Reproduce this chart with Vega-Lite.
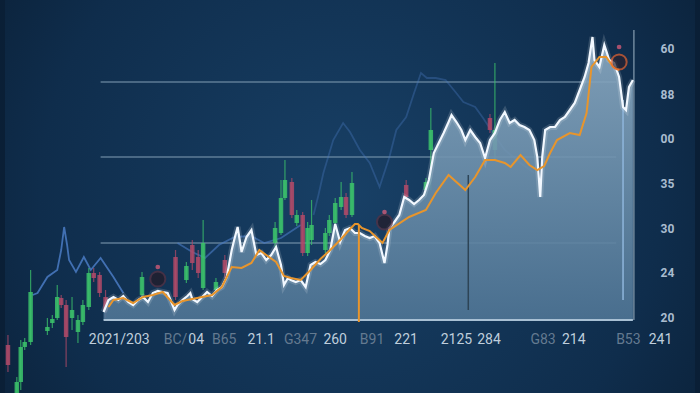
{
  "$schema": "https://vega.github.io/schema/vega-lite/v6.json",
  "width": 700,
  "height": 393,
  "autosize": {"type": "none"},
  "padding": 0,
  "background": "#0a1f36",
  "config": {"view": {"stroke": null}},
  "resolve": {"scale": {"color": "independent"}},
  "datasets": {
    "frame": [{"t1": 0, "t2": 140, "v1": 0, "v2": 39.3}],
    "grid": [
      {"v": 31.1, "t1": 19.4, "t2": 124},
      {"v": 23.6, "t1": 19.4, "t2": 124},
      {"v": 15.0, "t1": 19.4, "t2": 124}
    ],
    "candles": [
      {"t": 0.6, "o": 4.8, "c": 2.8, "hi": 5.8, "lo": 2.1, "dir": "down"},
      {"t": 2.4, "o": 1.1, "c": 0.0, "hi": 1.6, "lo": 0.0, "dir": "up"},
      {"t": 3.2, "o": 4.6, "c": 1.1, "hi": 5.3, "lo": 0.3, "dir": "up"},
      {"t": 4.0, "o": 5.1, "c": 4.6, "hi": 5.5, "lo": 4.3, "dir": "up"},
      {"t": 5.2, "o": 10.1, "c": 5.1, "hi": 12.3, "lo": 4.8, "dir": "up"},
      {"t": 8.6, "o": 6.6, "c": 6.2, "hi": 7.5, "lo": 5.8, "dir": "up"},
      {"t": 9.6, "o": 7.4, "c": 7.0, "hi": 7.8, "lo": 6.5, "dir": "up"},
      {"t": 10.6, "o": 9.6, "c": 7.5, "hi": 10.8, "lo": 7.3, "dir": "up"},
      {"t": 11.4, "o": 9.5, "c": 8.8, "hi": 9.8, "lo": 8.5, "dir": "down"},
      {"t": 12.4, "o": 8.8, "c": 5.6, "hi": 9.3, "lo": 2.6, "dir": "down"},
      {"t": 13.6, "o": 8.3, "c": 7.5, "hi": 9.6, "lo": 6.3, "dir": "up"},
      {"t": 14.8, "o": 7.3, "c": 6.1, "hi": 7.8, "lo": 5.0, "dir": "up"},
      {"t": 15.8, "o": 8.8, "c": 7.1, "hi": 9.3, "lo": 6.8, "dir": "up"},
      {"t": 17.0, "o": 12.0, "c": 8.6, "hi": 12.5, "lo": 8.3, "dir": "up"},
      {"t": 18.0, "o": 12.0, "c": 11.5, "hi": 12.5, "lo": 11.1, "dir": "down"},
      {"t": 19.2, "o": 11.8, "c": 10.0, "hi": 12.1, "lo": 9.6, "dir": "down"},
      {"t": 20.4, "o": 9.6, "c": 8.1, "hi": 10.3, "lo": 7.5, "dir": "down"},
      {"t": 27.8, "o": 11.6, "c": 9.8, "hi": 12.1, "lo": 9.5, "dir": "up"},
      {"t": 34.6, "o": 13.6, "c": 9.6, "hi": 14.3, "lo": 9.3, "dir": "down"},
      {"t": 36.8, "o": 12.7, "c": 11.3, "hi": 13.1, "lo": 11.0, "dir": "up"},
      {"t": 38.0, "o": 14.8, "c": 13.0, "hi": 15.3, "lo": 12.3, "dir": "down"},
      {"t": 39.2, "o": 13.6, "c": 12.0, "hi": 14.3, "lo": 11.5, "dir": "down"},
      {"t": 40.2, "o": 15.0, "c": 10.5, "hi": 17.3, "lo": 10.3, "dir": "up"},
      {"t": 42.8, "o": 11.1, "c": 10.3, "hi": 11.5, "lo": 10.0, "dir": "up"},
      {"t": 44.6, "o": 13.3, "c": 12.0, "hi": 13.8, "lo": 11.5, "dir": "down"},
      {"t": 54.8, "o": 16.5, "c": 15.0, "hi": 17.1, "lo": 14.6, "dir": "up"},
      {"t": 56.0, "o": 19.5, "c": 16.0, "hi": 21.3, "lo": 15.8, "dir": "up"},
      {"t": 56.8, "o": 21.3, "c": 19.5, "hi": 23.3, "lo": 19.3, "dir": "up"},
      {"t": 58.2, "o": 21.1, "c": 17.8, "hi": 21.5, "lo": 17.5, "dir": "down"},
      {"t": 59.2, "o": 17.8, "c": 17.0, "hi": 18.3, "lo": 16.7, "dir": "up"},
      {"t": 60.4, "o": 17.8, "c": 14.0, "hi": 18.1, "lo": 13.7, "dir": "down"},
      {"t": 61.4, "o": 16.5, "c": 14.0, "hi": 17.1, "lo": 13.7, "dir": "up"},
      {"t": 62.2, "o": 16.8, "c": 15.3, "hi": 19.3, "lo": 14.8, "dir": "up"},
      {"t": 65.0, "o": 16.0, "c": 14.3, "hi": 16.5, "lo": 14.0, "dir": "up"},
      {"t": 65.8, "o": 17.3, "c": 16.0, "hi": 17.8, "lo": 15.7, "dir": "up"},
      {"t": 67.0, "o": 19.0, "c": 17.0, "hi": 19.5, "lo": 16.7, "dir": "up"},
      {"t": 68.2, "o": 19.6, "c": 18.6, "hi": 21.1, "lo": 18.3, "dir": "up"},
      {"t": 69.2, "o": 19.6, "c": 17.8, "hi": 20.0, "lo": 17.5, "dir": "down"},
      {"t": 70.4, "o": 21.0, "c": 17.8, "hi": 22.1, "lo": 17.6, "dir": "up"},
      {"t": 81.4, "o": 20.8, "c": 19.6, "hi": 21.3, "lo": 19.3, "dir": "down"},
      {"t": 85.4, "o": 21.1, "c": 20.3, "hi": 21.5, "lo": 19.8, "dir": "up"},
      {"t": 86.4, "o": 26.3, "c": 24.3, "hi": 28.5, "lo": 20.3, "dir": "up"},
      {"t": 98.4, "o": 27.5, "c": 26.3, "hi": 27.9, "lo": 26.0, "dir": "down"},
      {"t": 99.4, "o": 26.3, "c": 24.3, "hi": 33.0, "lo": 23.3, "dir": "up"}
    ],
    "blue": [
      {"t": 5.6, "v": 9.8, "s": "a"}, {"t": 6.6, "v": 10.0, "s": "a"}, {"t": 8.6, "v": 11.6, "s": "a"},
      {"t": 10.6, "v": 12.3, "s": "a"}, {"t": 11.4, "v": 14.3, "s": "a"}, {"t": 12.0, "v": 16.6, "s": "a"},
      {"t": 12.6, "v": 14.8, "s": "a"}, {"t": 13.0, "v": 13.3, "s": "a"}, {"t": 14.4, "v": 12.1, "s": "a"},
      {"t": 16.0, "v": 13.6, "s": "a"}, {"t": 17.4, "v": 12.3, "s": "a"}, {"t": 19.4, "v": 13.5, "s": "a"},
      {"t": 22.0, "v": 11.6, "s": "a"}, {"t": 24.0, "v": 10.0, "s": "a"},
      {"t": 35.0, "v": 15.0, "s": "b"}, {"t": 38.0, "v": 14.1, "s": "b"}, {"t": 40.6, "v": 13.5, "s": "b"},
      {"t": 43.4, "v": 14.8, "s": "b"}, {"t": 46.6, "v": 15.6, "s": "b"}, {"t": 50.0, "v": 15.7, "s": "b"},
      {"t": 52.6, "v": 15.0, "s": "b"}, {"t": 56.0, "v": 15.5, "s": "b"}, {"t": 60.0, "v": 16.8, "s": "b"},
      {"t": 62.6, "v": 17.8, "s": "c"}, {"t": 63.6, "v": 19.8, "s": "c"}, {"t": 64.6, "v": 22.0, "s": "c"},
      {"t": 66.6, "v": 25.3, "s": "c"}, {"t": 68.6, "v": 27.0, "s": "c"}, {"t": 70.0, "v": 26.1, "s": "c"},
      {"t": 72.0, "v": 24.3, "s": "c"}, {"t": 74.0, "v": 23.0, "s": "c"}, {"t": 76.0, "v": 20.6, "s": "c"},
      {"t": 76.6, "v": 21.5, "s": "c"}, {"t": 78.0, "v": 23.6, "s": "c"}, {"t": 79.4, "v": 26.3, "s": "c"},
      {"t": 81.4, "v": 27.6, "s": "c"}, {"t": 83.0, "v": 30.0, "s": "c"}, {"t": 84.4, "v": 32.0, "s": "c"},
      {"t": 85.6, "v": 31.5, "s": "c"}, {"t": 87.4, "v": 31.5, "s": "c"}, {"t": 89.4, "v": 31.3, "s": "c"},
      {"t": 91.4, "v": 30.1, "s": "c"}, {"t": 93.0, "v": 29.1, "s": "c"}, {"t": 95.4, "v": 28.6, "s": "c"},
      {"t": 97.0, "v": 27.5, "s": "c"}, {"t": 98.6, "v": 26.3, "s": "c"}, {"t": 101.4, "v": 24.3, "s": "c"},
      {"t": 104.6, "v": 23.0, "s": "c"}, {"t": 107.4, "v": 22.0, "s": "c"}
    ],
    "price": [
      {"t": 20, "v": 8.1}, {"t": 21, "v": 9.3}, {"t": 22, "v": 9.6}, {"t": 23, "v": 9.3}, {"t": 24, "v": 9.7},
      {"t": 25, "v": 9.1}, {"t": 26, "v": 8.8}, {"t": 27, "v": 9.3}, {"t": 28, "v": 9.6}, {"t": 29, "v": 9.1},
      {"t": 30, "v": 10.0}, {"t": 31, "v": 10.2}, {"t": 32, "v": 10.1}, {"t": 33, "v": 10.0}, {"t": 34, "v": 8.8},
      {"t": 34.4, "v": 8.3}, {"t": 35, "v": 8.8}, {"t": 36, "v": 9.3}, {"t": 37, "v": 9.7}, {"t": 37.6, "v": 10.0},
      {"t": 38, "v": 9.4}, {"t": 39, "v": 9.1}, {"t": 40, "v": 9.6}, {"t": 41, "v": 10.1}, {"t": 42, "v": 9.7},
      {"t": 43, "v": 10.3}, {"t": 44, "v": 10.6}, {"t": 45, "v": 11.6}, {"t": 46, "v": 14.3}, {"t": 46.6, "v": 15.5},
      {"t": 47.2, "v": 16.6}, {"t": 48, "v": 14.1}, {"t": 49, "v": 15.6}, {"t": 50, "v": 16.3}, {"t": 51, "v": 13.8},
      {"t": 52, "v": 14.0}, {"t": 53, "v": 13.3}, {"t": 54, "v": 13.8}, {"t": 55, "v": 14.6}, {"t": 56, "v": 12.8},
      {"t": 56.6, "v": 10.8}, {"t": 57.4, "v": 11.5}, {"t": 58, "v": 11.3}, {"t": 59, "v": 11.1}, {"t": 60, "v": 11.3},
      {"t": 61, "v": 10.6}, {"t": 62, "v": 12.8}, {"t": 63, "v": 13.1}, {"t": 64, "v": 12.9}, {"t": 65, "v": 13.3},
      {"t": 66, "v": 14.3}, {"t": 67, "v": 16.9}, {"t": 68, "v": 15.1}, {"t": 69, "v": 16.3}, {"t": 70, "v": 16.5},
      {"t": 71, "v": 16.0}, {"t": 72, "v": 16.0}, {"t": 73, "v": 15.7}, {"t": 74, "v": 15.5}, {"t": 75, "v": 15.7},
      {"t": 76, "v": 15.0}, {"t": 77, "v": 13.0}, {"t": 77.6, "v": 14.8}, {"t": 78, "v": 16.5}, {"t": 79, "v": 17.1},
      {"t": 80, "v": 17.8}, {"t": 81, "v": 19.6}, {"t": 82, "v": 19.3}, {"t": 83, "v": 18.9}, {"t": 84, "v": 19.3},
      {"t": 85, "v": 19.8}, {"t": 86, "v": 21.3}, {"t": 87, "v": 24.0}, {"t": 88, "v": 25.0}, {"t": 89, "v": 26.0},
      {"t": 90, "v": 27.1}, {"t": 90.6, "v": 27.8}, {"t": 91.6, "v": 27.1}, {"t": 92.6, "v": 26.3}, {"t": 93.4, "v": 25.3},
      {"t": 94.4, "v": 26.3}, {"t": 95.4, "v": 25.6}, {"t": 96.4, "v": 25.0}, {"t": 97.4, "v": 23.5}, {"t": 98.4, "v": 25.3},
      {"t": 99.4, "v": 26.0}, {"t": 100.4, "v": 27.3}, {"t": 101.4, "v": 28.1}, {"t": 102.4, "v": 27.0}, {"t": 103.4, "v": 27.3},
      {"t": 104.4, "v": 26.8}, {"t": 105.4, "v": 26.6}, {"t": 106.4, "v": 26.3}, {"t": 107.4, "v": 25.3}, {"t": 108, "v": 23.6},
      {"t": 108.6, "v": 19.6}, {"t": 109, "v": 23.6}, {"t": 109.6, "v": 26.3}, {"t": 110.6, "v": 26.6}, {"t": 111.6, "v": 26.6},
      {"t": 112.6, "v": 27.3}, {"t": 113.6, "v": 27.6}, {"t": 114.6, "v": 28.3}, {"t": 115.6, "v": 29.0}, {"t": 116.6, "v": 30.3},
      {"t": 117.6, "v": 31.6}, {"t": 118.4, "v": 33.0}, {"t": 119.2, "v": 35.6}, {"t": 119.6, "v": 33.3}, {"t": 120.6, "v": 32.6},
      {"t": 121.6, "v": 34.8}, {"t": 122.6, "v": 33.3}, {"t": 123.6, "v": 33.0}, {"t": 124.6, "v": 31.6}, {"t": 125.4, "v": 28.6},
      {"t": 126, "v": 28.3}, {"t": 126.6, "v": 30.6}, {"t": 127.4, "v": 31.3}
    ],
    "ma": [
      {"t": 21, "v": 8.6}, {"t": 22, "v": 9.3}, {"t": 24, "v": 9.5}, {"t": 26, "v": 9.0}, {"t": 28, "v": 9.6},
      {"t": 30, "v": 9.8}, {"t": 32, "v": 10.1}, {"t": 34.4, "v": 8.8}, {"t": 36, "v": 9.2}, {"t": 39, "v": 9.5},
      {"t": 42, "v": 9.8}, {"t": 44, "v": 10.6}, {"t": 46, "v": 12.6}, {"t": 48, "v": 12.5}, {"t": 50, "v": 13.0},
      {"t": 51.6, "v": 14.3}, {"t": 53, "v": 13.8}, {"t": 55, "v": 13.1}, {"t": 56.6, "v": 11.7}, {"t": 58, "v": 11.5},
      {"t": 60, "v": 11.3}, {"t": 62, "v": 12.3}, {"t": 64, "v": 13.4}, {"t": 66, "v": 14.3}, {"t": 68, "v": 15.3},
      {"t": 70, "v": 16.4}, {"t": 71, "v": 16.9}, {"t": 71.6, "v": 16.9}, {"t": 72.4, "v": 16.5}, {"t": 74, "v": 16.2},
      {"t": 76.6, "v": 15.0}, {"t": 78, "v": 16.3}, {"t": 82, "v": 17.6}, {"t": 85.4, "v": 18.3}, {"t": 87.4, "v": 20.0},
      {"t": 90, "v": 21.8}, {"t": 93.4, "v": 20.3}, {"t": 95.4, "v": 21.6}, {"t": 97.4, "v": 23.3}, {"t": 99.4, "v": 23.3},
      {"t": 101.4, "v": 23.0}, {"t": 102.6, "v": 22.6}, {"t": 104.6, "v": 23.8}, {"t": 106.4, "v": 22.8}, {"t": 108, "v": 22.3},
      {"t": 109.4, "v": 22.7}, {"t": 110.6, "v": 24.0}, {"t": 112, "v": 25.3}, {"t": 114.6, "v": 26.0}, {"t": 116.6, "v": 25.8},
      {"t": 118, "v": 28.0}, {"t": 119, "v": 32.6}, {"t": 120.6, "v": 33.6}, {"t": 122, "v": 33.6}, {"t": 123.4, "v": 32.6},
      {"t": 124.6, "v": 32.3}
    ],
    "markers": [
      {"t": 31, "v": 11.4, "kind": "dark"},
      {"t": 77, "v": 17.1, "kind": "dark"},
      {"t": 124.6, "v": 33.1, "kind": "ring"}
    ],
    "dots": [
      {"t": 31, "v": 12.6},
      {"t": 77, "v": 18.1},
      {"t": 124.6, "v": 34.6}
    ],
    "xlabels": [
      {"t": 17, "label": "2021/203", "tone": "bright"},
      {"t": 32.2, "label": "BC/", "tone": "dim"},
      {"t": 37.2, "label": "04", "tone": "bright"},
      {"t": 42, "label": "B65", "tone": "dim"},
      {"t": 49.2, "label": "21.1", "tone": "bright"},
      {"t": 56.6, "label": "G347", "tone": "dim"},
      {"t": 64.6, "label": "260", "tone": "bright"},
      {"t": 72, "label": "B91", "tone": "dim"},
      {"t": 79, "label": "221", "tone": "bright"},
      {"t": 88.4, "label": "2125", "tone": "bright"},
      {"t": 95.8, "label": "284", "tone": "bright"},
      {"t": 106.6, "label": "G83", "tone": "dim"},
      {"t": 113, "label": "214", "tone": "bright"},
      {"t": 124, "label": "B53", "tone": "dim"},
      {"t": 130.6, "label": "241", "tone": "bright"}
    ],
    "ylabels": [
      {"v": 34.4, "label": "60"},
      {"v": 29.8, "label": "88"},
      {"v": 25.4, "label": "00"},
      {"v": 20.9, "label": "35"},
      {"v": 16.4, "label": "30"},
      {"v": 12.0, "label": "24"},
      {"v": 7.5, "label": "20"}
    ]
  },
  "layer": [
    {
      "data": {"name": "frame"},
      "mark": {
        "type": "rect",
        "color": {
          "gradient": "radial", "x1": 0.5, "y1": 0.5, "r1": 0, "x2": 0.5, "y2": 0.5, "r2": 0.75,
          "stops": [{"offset": 0, "color": "#184066"}, {"offset": 0.6, "color": "#0f2d4c"}, {"offset": 1, "color": "#08192c"}]
        }
      },
      "encoding": {
        "x": {"field": "t1", "type": "quantitative", "scale": {"domain": [0, 140], "nice": false, "zero": false}, "axis": null},
        "x2": {"field": "t2"},
        "y": {"field": "v1", "type": "quantitative", "scale": {"domain": [0, 39.3], "nice": false, "zero": false}, "axis": null},
        "y2": {"field": "v2"}
      }
    },
    {
      "data": {"name": "grid"},
      "mark": {"type": "rule", "color": "#7f9ab2", "strokeWidth": 1.5, "opacity": 0.7},
      "encoding": {
        "x": {"field": "t1", "type": "quantitative"},
        "x2": {"field": "t2"},
        "y": {"field": "v", "type": "quantitative"}
      }
    },
    {
      "data": {"name": "blue"},
      "mark": {"type": "line", "strokeWidth": 1.8, "color": "#4a7bc4"},
      "encoding": {
        "x": {"field": "t", "type": "quantitative"},
        "y": {"field": "v", "type": "quantitative"},
        "detail": {"field": "s"},
        "opacity": {"field": "s", "type": "nominal", "scale": {"domain": ["a", "b", "c"], "range": [0.85, 0.35, 0.85]}, "legend": null}
      }
    },
    {
      "data": {"name": "candles"},
      "mark": {"type": "rule", "strokeWidth": 1.2, "opacity": 0.75},
      "encoding": {
        "x": {"field": "t", "type": "quantitative"},
        "y": {"field": "lo", "type": "quantitative"},
        "y2": {"field": "hi"},
        "color": {"field": "dir", "type": "nominal", "scale": {"domain": ["up", "down"], "range": ["#3cc36b", "#b04a68"]}, "legend": null}
      }
    },
    {
      "data": {"name": "candles"},
      "mark": {"type": "bar", "size": 4.5, "opacity": 0.85},
      "encoding": {
        "x": {"field": "t", "type": "quantitative"},
        "y": {"field": "o", "type": "quantitative"},
        "y2": {"field": "c"},
        "color": {"field": "dir", "type": "nominal", "scale": {"domain": ["up", "down"], "range": ["#3cc36b", "#b04a68"]}, "legend": null}
      }
    },
    {
      "data": {"name": "price"},
      "mark": {
        "type": "area",
        "opacity": 0.9,
        "color": {
          "gradient": "linear", "x1": 0, "y1": 0, "x2": 0, "y2": 1,
          "stops": [{"offset": 0, "color": "#8cabc3"}, {"offset": 0.5, "color": "#6d90ac"}, {"offset": 1, "color": "#4f7595"}]
        }
      },
      "encoding": {
        "x": {"field": "t", "type": "quantitative"},
        "y": {"field": "v", "type": "quantitative"},
        "y2": {"datum": 7.3}
      }
    },
    {
      "data": {"values": [{"t1": 20, "t2": 127.4, "v": 7.3}]},
      "mark": {"type": "rule", "color": "#a8c0d4", "strokeWidth": 2},
      "encoding": {
        "x": {"field": "t1", "type": "quantitative"},
        "x2": {"field": "t2"},
        "y": {"field": "v", "type": "quantitative"}
      }
    },
    {
      "data": {"values": [
        {"t": 94, "lo": 8.3, "hi": 21.8, "c": "#2d4456"},
        {"t": 125.4, "lo": 9.3, "hi": 29.3, "c": "#8fb6dc"},
        {"t": 127.6, "lo": 7.3, "hi": 36.3, "c": "#6f889d"}
      ]},
      "mark": {"type": "rule", "strokeWidth": 1.5},
      "encoding": {
        "x": {"field": "t", "type": "quantitative"},
        "y": {"field": "lo", "type": "quantitative"},
        "y2": {"field": "hi"},
        "color": {"field": "c", "type": "nominal", "scale": null}
      }
    },
    {
      "data": {"name": "price"},
      "mark": {"type": "line", "color": "#ffffff", "strokeWidth": 6, "opacity": 0.15},
      "encoding": {
        "x": {"field": "t", "type": "quantitative"},
        "y": {"field": "v", "type": "quantitative"}
      }
    },
    {
      "data": {"name": "price"},
      "mark": {"type": "line", "color": "#f2f8ff", "strokeWidth": 2.2},
      "encoding": {
        "x": {"field": "t", "type": "quantitative"},
        "y": {"field": "v", "type": "quantitative"}
      }
    },
    {
      "data": {"name": "ma"},
      "mark": {"type": "line", "color": "#e8952c", "strokeWidth": 2},
      "encoding": {
        "x": {"field": "t", "type": "quantitative"},
        "y": {"field": "v", "type": "quantitative"}
      }
    },
    {
      "data": {"values": [{"t": 71.8, "lo": 7.1, "hi": 16.8}]},
      "mark": {"type": "rule", "color": "#e8952c", "strokeWidth": 2},
      "encoding": {
        "x": {"field": "t", "type": "quantitative"},
        "y": {"field": "lo", "type": "quantitative"},
        "y2": {"field": "hi"}
      }
    },
    {
      "data": {"name": "markers"},
      "mark": {"type": "point", "filled": true, "size": 230, "strokeWidth": 2},
      "encoding": {
        "x": {"field": "t", "type": "quantitative"},
        "y": {"field": "v", "type": "quantitative"},
        "fill": {"field": "kind", "type": "nominal", "scale": {"domain": ["dark", "ring"], "range": ["#241a26", "#2a2230"]}, "legend": null},
        "stroke": {"field": "kind", "type": "nominal", "scale": {"domain": ["dark", "ring"], "range": ["#5a3040", "#e8622e"]}, "legend": null}
      }
    },
    {
      "data": {"name": "dots"},
      "mark": {"type": "point", "filled": true, "size": 22, "color": "#e8607c"},
      "encoding": {
        "x": {"field": "t", "type": "quantitative"},
        "y": {"field": "v", "type": "quantitative"}
      }
    },
    {
      "data": {"name": "xlabels"},
      "mark": {"type": "text", "fontSize": 14, "font": "Roboto", "align": "left", "baseline": "middle"},
      "encoding": {
        "x": {"field": "t", "type": "quantitative"},
        "y": {"datum": 5.3},
        "text": {"field": "label"},
        "color": {"field": "tone", "type": "nominal", "scale": {"domain": ["bright", "dim"], "range": ["#bfcedc", "#647a90"]}, "legend": null}
      }
    },
    {
      "data": {"name": "ylabels"},
      "mark": {"type": "text", "color": "#a9bccf", "fontSize": 12, "fontWeight": "bold", "font": "Roboto", "align": "center", "baseline": "middle"},
      "encoding": {
        "x": {"datum": 134.4},
        "y": {"field": "v", "type": "quantitative"},
        "text": {"field": "label"}
      }
    }
  ]
}
